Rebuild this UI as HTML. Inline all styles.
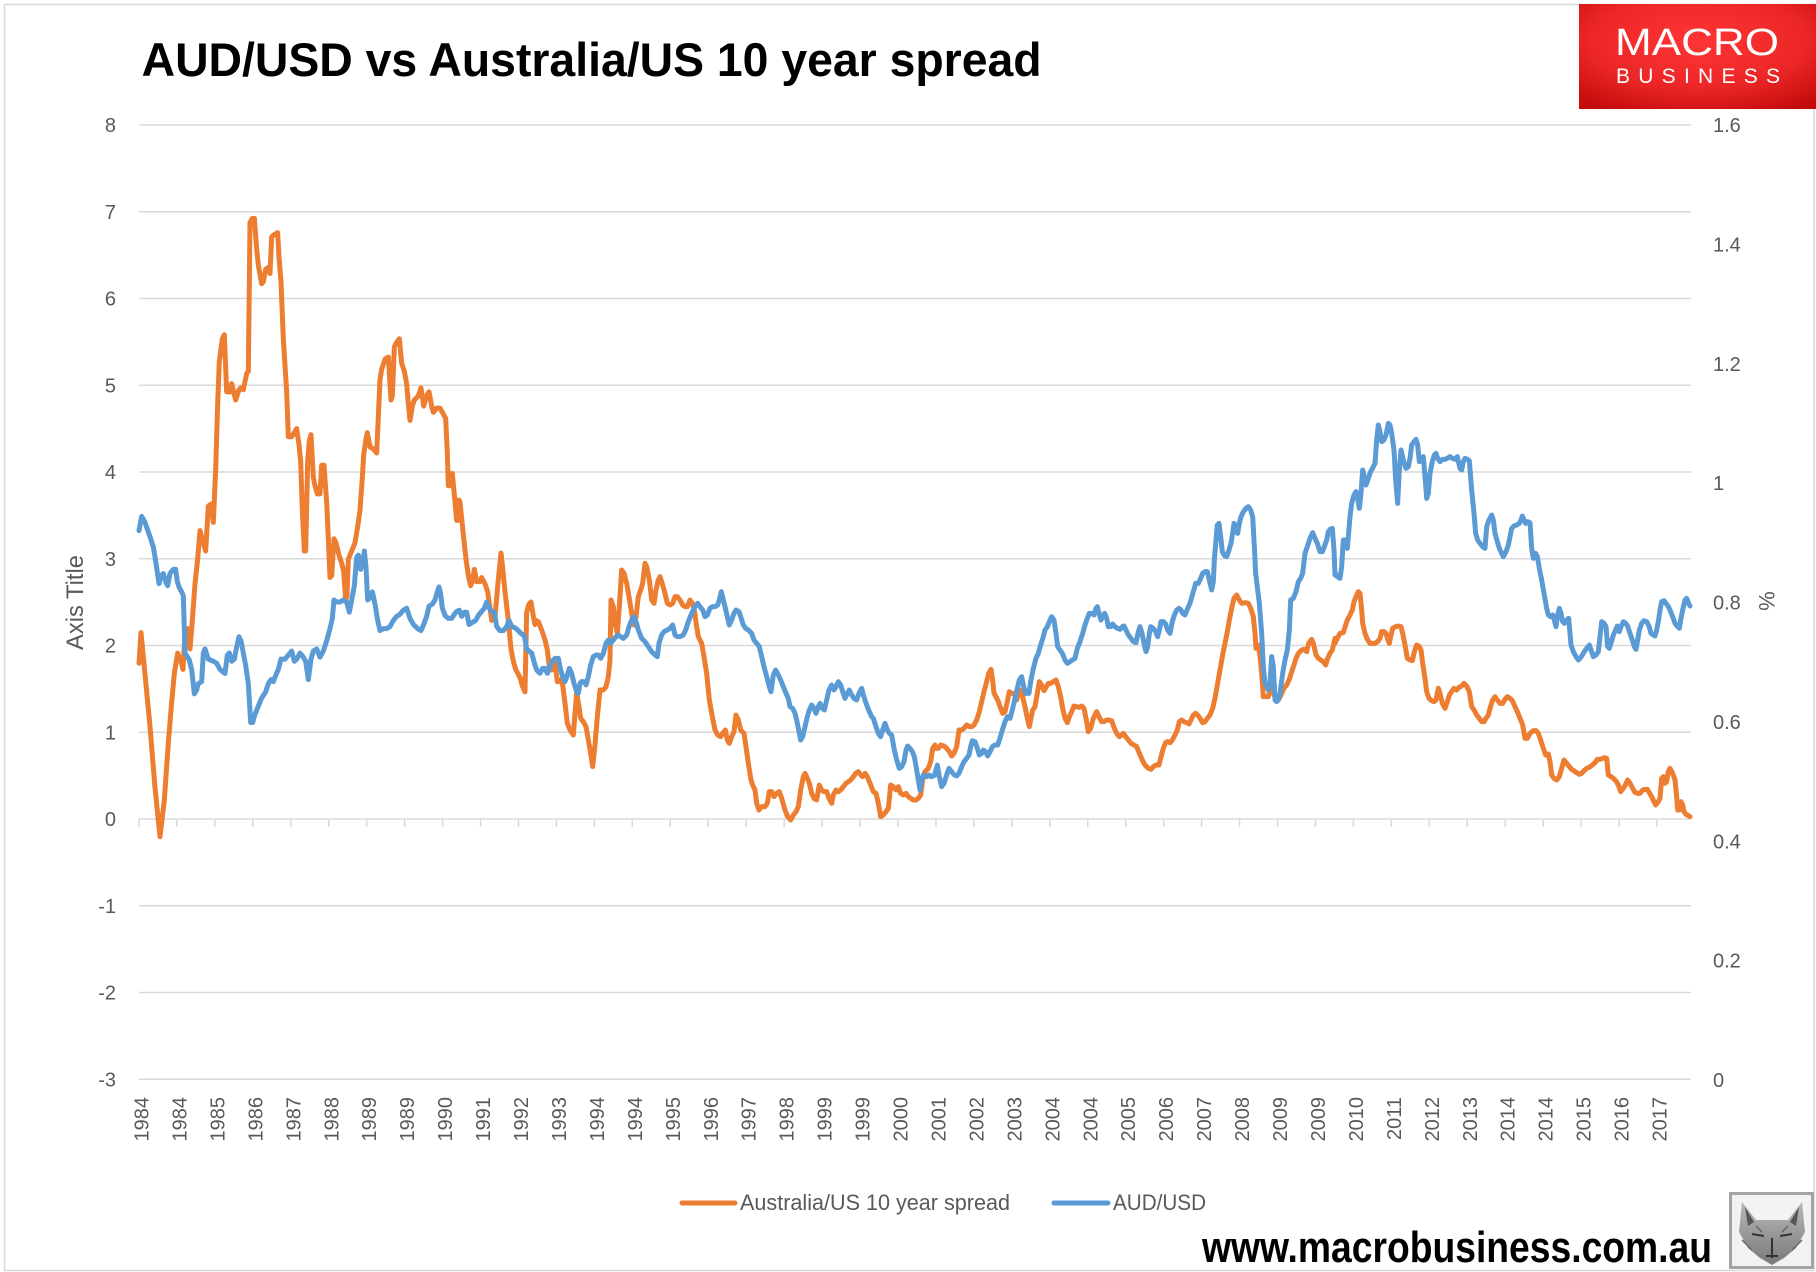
<!DOCTYPE html>
<html>
<head>
<meta charset="utf-8">
<style>
html,body{margin:0;padding:0;background:#fff;}
svg{display:block;}
.tk{font-family:"Liberation Sans",sans-serif;font-size:20px;fill:#595959;}
.o{fill:none;stroke:#ED7D31;stroke-width:5;stroke-linejoin:round;stroke-linecap:round;}
.b{fill:none;stroke:#5B9BD5;stroke-width:5;stroke-linejoin:round;stroke-linecap:round;}
</style>
</head>
<body>
<svg width="1816" height="1272" viewBox="0 0 1816 1272" xmlns="http://www.w3.org/2000/svg">
<defs>
<radialGradient id="rg" cx="50%" cy="35%" r="75%">
<stop offset="0" stop-color="#ff3535"/>
<stop offset="0.6" stop-color="#ec2626"/>
<stop offset="1" stop-color="#c50c0c"/>
</radialGradient>
<linearGradient id="fx" x1="0" y1="0" x2="0" y2="1">
<stop offset="0" stop-color="#b8b8b8"/>
<stop offset="1" stop-color="#7a7a7a"/>
</linearGradient>
</defs>
<rect x="0" y="0" width="1816" height="1272" fill="#fff"/>
<rect x="4.5" y="4.5" width="1809.5" height="1266" fill="none" stroke="#d9d9d9" stroke-width="1.5"/>

<text x="141.6" y="76" font-family="'Liberation Sans',sans-serif" font-weight="bold" font-size="47" fill="#000" textLength="900" lengthAdjust="spacingAndGlyphs">AUD/USD vs Australia/US 10 year spread</text>

<rect x="1579" y="4" width="237" height="105" fill="url(#rg)"/>
<text x="1615" y="55" font-family="'Liberation Sans',sans-serif" font-size="38" fill="#fff" textLength="164" lengthAdjust="spacingAndGlyphs">MACRO</text>
<text x="1616" y="83" font-family="'Liberation Sans',sans-serif" font-size="21" fill="#fff" textLength="164" lengthAdjust="spacing">BUSINESS</text>

<g stroke="#d9d9d9" stroke-width="1.5">
<line x1="139" y1="125.0" x2="1691" y2="125.0"/>
<line x1="139" y1="211.75" x2="1691" y2="211.75"/>
<line x1="139" y1="298.5" x2="1691" y2="298.5"/>
<line x1="139" y1="385.25" x2="1691" y2="385.25"/>
<line x1="139" y1="472" x2="1691" y2="472"/>
<line x1="139" y1="558.75" x2="1691" y2="558.75"/>
<line x1="139" y1="645.5" x2="1691" y2="645.5"/>
<line x1="139" y1="732.25" x2="1691" y2="732.25"/>
<line x1="139" y1="819" x2="1691" y2="819"/>
<line x1="139" y1="905.75" x2="1691" y2="905.75"/>
<line x1="139" y1="992.5" x2="1691" y2="992.5"/>
<line x1="139" y1="1079.25" x2="1691" y2="1079.25"/>
</g>
<g stroke="#d9d9d9" stroke-width="1.5">
<line x1="139.0" y1="819" x2="139.0" y2="827"/><line x1="176.95" y1="819" x2="176.95" y2="827"/><line x1="214.9" y1="819" x2="214.9" y2="827"/><line x1="252.85" y1="819" x2="252.85" y2="827"/><line x1="290.8" y1="819" x2="290.8" y2="827"/><line x1="328.75" y1="819" x2="328.75" y2="827"/><line x1="366.7" y1="819" x2="366.7" y2="827"/><line x1="404.65" y1="819" x2="404.65" y2="827"/><line x1="442.6" y1="819" x2="442.6" y2="827"/><line x1="480.55" y1="819" x2="480.55" y2="827"/><line x1="518.5" y1="819" x2="518.5" y2="827"/><line x1="556.45" y1="819" x2="556.45" y2="827"/><line x1="594.4" y1="819" x2="594.4" y2="827"/><line x1="632.35" y1="819" x2="632.35" y2="827"/><line x1="670.3" y1="819" x2="670.3" y2="827"/><line x1="708.25" y1="819" x2="708.25" y2="827"/><line x1="746.2" y1="819" x2="746.2" y2="827"/><line x1="784.15" y1="819" x2="784.15" y2="827"/><line x1="822.1" y1="819" x2="822.1" y2="827"/><line x1="860.05" y1="819" x2="860.05" y2="827"/><line x1="898.0" y1="819" x2="898.0" y2="827"/><line x1="935.95" y1="819" x2="935.95" y2="827"/><line x1="973.9" y1="819" x2="973.9" y2="827"/><line x1="1011.85" y1="819" x2="1011.85" y2="827"/><line x1="1049.8" y1="819" x2="1049.8" y2="827"/><line x1="1087.75" y1="819" x2="1087.75" y2="827"/><line x1="1125.7" y1="819" x2="1125.7" y2="827"/><line x1="1163.65" y1="819" x2="1163.65" y2="827"/><line x1="1201.6" y1="819" x2="1201.6" y2="827"/><line x1="1239.55" y1="819" x2="1239.55" y2="827"/><line x1="1277.5" y1="819" x2="1277.5" y2="827"/><line x1="1315.45" y1="819" x2="1315.45" y2="827"/><line x1="1353.4" y1="819" x2="1353.4" y2="827"/><line x1="1391.35" y1="819" x2="1391.35" y2="827"/><line x1="1429.3" y1="819" x2="1429.3" y2="827"/><line x1="1467.25" y1="819" x2="1467.25" y2="827"/><line x1="1505.2" y1="819" x2="1505.2" y2="827"/><line x1="1543.15" y1="819" x2="1543.15" y2="827"/><line x1="1581.1" y1="819" x2="1581.1" y2="827"/><line x1="1619.05" y1="819" x2="1619.05" y2="827"/><line x1="1657.0" y1="819" x2="1657.0" y2="827"/>
</g>

<g class="tk" text-anchor="end">
<text x="116" y="132">8</text>
<text x="116" y="218.75">7</text>
<text x="116" y="305.5">6</text>
<text x="116" y="392.25">5</text>
<text x="116" y="479">4</text>
<text x="116" y="565.75">3</text>
<text x="116" y="652.5">2</text>
<text x="116" y="739.25">1</text>
<text x="116" y="826">0</text>
<text x="116" y="912.75">-1</text>
<text x="116" y="999.5">-2</text>
<text x="116" y="1086.25">-3</text>
</g>
<g class="tk">
<text x="1713" y="132">1.6</text>
<text x="1713" y="251.4">1.4</text>
<text x="1713" y="370.8">1.2</text>
<text x="1713" y="490.1">1</text>
<text x="1713" y="609.5">0.8</text>
<text x="1713" y="728.9">0.6</text>
<text x="1713" y="848.3">0.4</text>
<text x="1713" y="967.6">0.2</text>
<text x="1713" y="1087">0</text>
</g>
<text transform="translate(83,602.5) rotate(-90)" text-anchor="middle" font-family="'Liberation Sans',sans-serif" font-size="24" fill="#595959" textLength="95" lengthAdjust="spacingAndGlyphs">Axis Title</text>
<text transform="translate(1759,601) rotate(90)" text-anchor="middle" font-family="'Liberation Sans',sans-serif" font-size="22" fill="#595959">%</text>

<g class="tk" text-anchor="end">
<text transform="translate(148.5,1097) rotate(-90)">1984</text>
<text transform="translate(186.45,1097) rotate(-90)">1984</text>
<text transform="translate(224.4,1097) rotate(-90)">1985</text>
<text transform="translate(262.35,1097) rotate(-90)">1986</text>
<text transform="translate(300.3,1097) rotate(-90)">1987</text>
<text transform="translate(338.25,1097) rotate(-90)">1988</text>
<text transform="translate(376.2,1097) rotate(-90)">1989</text>
<text transform="translate(414.15,1097) rotate(-90)">1989</text>
<text transform="translate(452.1,1097) rotate(-90)">1990</text>
<text transform="translate(490.05,1097) rotate(-90)">1991</text>
<text transform="translate(528.0,1097) rotate(-90)">1992</text>
<text transform="translate(565.95,1097) rotate(-90)">1993</text>
<text transform="translate(603.9,1097) rotate(-90)">1994</text>
<text transform="translate(641.85,1097) rotate(-90)">1994</text>
<text transform="translate(679.8,1097) rotate(-90)">1995</text>
<text transform="translate(717.75,1097) rotate(-90)">1996</text>
<text transform="translate(755.7,1097) rotate(-90)">1997</text>
<text transform="translate(793.65,1097) rotate(-90)">1998</text>
<text transform="translate(831.6,1097) rotate(-90)">1999</text>
<text transform="translate(869.55,1097) rotate(-90)">1999</text>
<text transform="translate(907.5,1097) rotate(-90)">2000</text>
<text transform="translate(945.45,1097) rotate(-90)">2001</text>
<text transform="translate(983.4,1097) rotate(-90)">2002</text>
<text transform="translate(1021.35,1097) rotate(-90)">2003</text>
<text transform="translate(1059.3,1097) rotate(-90)">2004</text>
<text transform="translate(1097.25,1097) rotate(-90)">2004</text>
<text transform="translate(1135.2,1097) rotate(-90)">2005</text>
<text transform="translate(1173.15,1097) rotate(-90)">2006</text>
<text transform="translate(1211.1,1097) rotate(-90)">2007</text>
<text transform="translate(1249.05,1097) rotate(-90)">2008</text>
<text transform="translate(1287.0,1097) rotate(-90)">2009</text>
<text transform="translate(1324.95,1097) rotate(-90)">2009</text>
<text transform="translate(1362.9,1097) rotate(-90)">2010</text>
<text transform="translate(1400.85,1097) rotate(-90)">2011</text>
<text transform="translate(1438.8,1097) rotate(-90)">2012</text>
<text transform="translate(1476.75,1097) rotate(-90)">2013</text>
<text transform="translate(1514.7,1097) rotate(-90)">2014</text>
<text transform="translate(1552.65,1097) rotate(-90)">2014</text>
<text transform="translate(1590.6,1097) rotate(-90)">2015</text>
<text transform="translate(1628.55,1097) rotate(-90)">2016</text>
<text transform="translate(1666.5,1097) rotate(-90)">2017</text>
</g>

<g transform="translate(135,200) scale(0.333333,0.408163)">
<polyline class="o" vector-effect="non-scaling-stroke" points="12,1135 18,1060 45,1290 60,1440 75,1560 88,1470 100,1330 110,1230 118,1160 128,1110 138,1130 144,1150 150,1060 158,1050 165,1100 172,1030 180,940 188,880 195,810 205,840 212,860 220,750 228,745 235,790 242,660 248,500 253,395 262,340 268,330 275,470 285,470 290,450 302,490 312,465 318,460 325,465 335,425 340,420 345,55 352,45 358,45 365,120 370,160 380,205 385,200 392,170 400,165 405,180 410,90 418,85 428,80 432,140 438,200 445,340 455,470 460,580 470,580 478,570 485,560 492,600 497,640 502,760 508,860 512,860 518,640 523,590 528,575 535,680 540,700 547,720 555,720 560,650 567,650 575,740 580,830 585,925 590,920 597,830 603,840 612,870 620,890 626,910 632,980 636,970 640,880 650,860 660,840 668,800 675,760 682,680 686,625 692,590 697,570 705,605 715,610 725,620 730,530 735,440 740,415 750,390 760,385 768,490 772,480 778,360 784,350 793,340 800,400 808,420 815,450 820,500 825,540 832,505 838,490 850,480 858,460 866,505 875,480 882,470 890,505 895,520 905,510 915,510 922,520 932,535 937,620 940,700 945,700 952,670 960,740 965,785 968,785 972,735 975,740 985,820 993,880 1000,920 1007,945 1012,935 1018,905 1025,935 1035,935 1040,925 1050,940 1058,960 1065,1000 1070,1030 1080,1020 1090,930 1098,865 1104,910 1110,960 1120,1030 1128,1100 1135,1130 1142,1150 1155,1170 1162,1190 1170,1205 1175,1010 1182,990 1188,985 1195,1020 1200,1040"/>
</g>
<g transform="translate(530,420) scale(0.333333)">
<polyline class="o" vector-effect="non-scaling-stroke" points="15,600 25,605 35,630 45,660 52,690 58,740 65,750 75,730 82,785 90,780 98,795 105,850 112,910 120,930 130,945 135,880 140,820 147,860 152,895 160,905 168,920 175,960 182,1000 188,1040 195,975 202,890 210,810 220,810 228,800 235,770 240,720 243,540 250,560 255,610 262,640 268,560 275,450 282,460 290,490 297,530 305,580 312,615 318,590 325,530 332,510 338,490 345,430 350,440 358,480 365,540 372,550 378,510 385,480 390,470 398,495 405,520 412,550 420,555 428,550 435,530 442,530 450,540 458,555 465,560 472,560 480,540 487,550 493,570 500,620 505,650 515,670 522,710 530,760 538,840 547,890 555,930 563,945 572,950 578,940 586,930 592,960 598,970 605,950 612,935 618,885 625,900 632,930 642,940 648,980 655,1030 663,1080 668,1095 675,1110 680,1150 687,1170 695,1160 705,1160 712,1150 718,1115 725,1115 732,1130 740,1120 748,1115 755,1135 765,1170 773,1190 782,1200 790,1185 798,1175 805,1160 812,1110 820,1070 825,1060 832,1075 838,1090 845,1120 852,1135 860,1140 868,1095 875,1110 882,1115 890,1115 897,1135 905,1150 910,1125 918,1110 925,1115 932,1110 940,1100 948,1090 955,1085 962,1080 970,1070 977,1060 985,1055 992,1065 998,1070 1005,1060 1012,1070 1020,1090 1030,1115 1038,1120 1045,1150 1052,1190 1060,1185 1068,1175 1075,1165 1082,1095 1090,1100 1098,1110 1105,1100 1112,1120 1120,1125 1128,1120 1135,1130 1142,1135 1150,1140 1158,1140 1165,1135 1172,1125 1178,1080 1185,1055 1195,1045 1202,1025 1208,985 1215,975"/>
</g>
<g transform="translate(930,400) scale(0.333333)">
<polyline class="o" vector-effect="non-scaling-stroke" points="15,1045 25,1045 32,1035 42,1038 50,1045 58,1055 65,1068 72,1060 80,1040 87,990 95,990 102,985 110,975 118,980 125,980 132,975 140,960 148,935 155,905 162,875 170,845 176,820 183,808 188,840 192,880 198,890 205,905 212,925 218,940 225,935 232,905 238,875 245,880 252,880 260,900 265,880 272,870 278,890 285,920 292,955 298,980 303,955 308,930 315,920 322,880 328,845 335,855 342,872 348,862 355,850 362,850 370,845 378,840 385,860 392,890 398,925 405,955 412,968 418,950 425,935 432,918 440,920 447,922 455,918 462,925 468,955 475,995 482,985 490,955 500,935 507,950 515,965 522,965 530,960 537,960 545,962 553,985 560,1000 568,1010 575,1005 580,1000 587,1010 595,1020 603,1030 612,1035 620,1040 628,1060 637,1080 645,1095 655,1105 663,1108 670,1100 678,1095 687,1095 693,1070 700,1045 707,1028 713,1025 720,1028 727,1020 735,1005 742,990 748,965 755,960 762,965 770,968 777,972 783,960 790,945 797,940 803,945 810,955 818,968 825,965 832,955 840,945 848,925 855,895 862,855 870,810 878,765 885,730 892,695 898,660 905,625 912,595 920,585 928,600 935,610 945,608 955,610 962,625 970,650 975,700 978,745 985,735 990,770 995,820 1000,890 1008,890 1015,890 1020,870 1025,860 1030,880 1035,890 1042,895 1048,895 1055,880 1062,865 1070,855 1078,838 1085,815 1092,795 1098,775 1105,760 1115,750 1122,748 1130,755 1136,730 1145,718 1150,730 1158,765 1165,775 1172,780 1180,785 1187,795 1193,775 1200,760 1207,750 1215,715"/>
</g>
<g transform="translate(1330,380) scale(0.333333)">
<polyline class="o" vector-effect="non-scaling-stroke" points="15,790 22,775 30,760 40,758 47,735 52,720 60,705 67,690 72,665 78,650 85,635 90,640 95,690 98,730 105,760 112,778 120,790 128,790 135,790 143,785 150,775 155,755 162,755 168,760 172,775 178,790 182,770 188,745 197,740 205,738 213,740 218,760 225,795 232,835 240,840 247,842 253,815 260,795 268,800 273,810 278,850 285,895 290,935 297,955 305,962 312,965 318,960 325,925 330,940 337,970 345,985 352,965 358,945 365,935 372,925 380,930 387,922 395,918 402,910 410,918 418,935 425,980 432,990 440,1005 448,1015 455,1025 462,1025 468,1015 475,1005 480,985 487,962 495,950 502,960 510,970 518,970 525,958 532,950 540,955 547,962 555,980 562,995 570,1015 578,1035 585,1075 592,1075 600,1060 610,1052 618,1052 625,1060 632,1080 640,1105 647,1125 655,1122 660,1145 665,1185 672,1195 680,1200 688,1190 695,1165 702,1140 710,1150 718,1160 725,1168 733,1173 740,1178 748,1183 755,1180 762,1172 770,1165 778,1162 787,1155 795,1148 802,1138 810,1138 818,1135 825,1133 830,1135 835,1185 843,1190 850,1195 858,1203 865,1215 872,1235 880,1225 887,1213 893,1200 900,1210 908,1225 915,1237 922,1240 930,1240 938,1230 945,1228 952,1228 958,1238 965,1250 972,1265 977,1275 985,1265 990,1255 995,1195 1000,1190 1005,1210 1010,1205 1015,1175 1020,1165 1028,1180 1035,1200 1040,1250 1043,1290 1048,1290 1053,1265 1058,1275 1062,1295 1068,1303 1075,1307 1080,1310"/>
</g>

<g transform="translate(135,200) scale(0.333333,0.408163)">
<polyline class="b" vector-effect="non-scaling-stroke" points="12,810 20,775 30,790 45,825 55,850 63,890 72,940 78,920 85,915 92,935 98,945 105,915 115,905 122,905 127,935 133,950 140,960 145,970 150,1110 162,1125 170,1150 178,1210 185,1200 190,1185 200,1180 205,1110 210,1100 220,1125 235,1130 245,1135 255,1150 262,1155 270,1160 277,1115 283,1110 290,1130 298,1125 305,1095 312,1070 318,1080 325,1110 332,1140 340,1185 347,1280 353,1280 360,1260 370,1240 380,1220 392,1205 400,1185 408,1175 415,1180 422,1165 430,1150 438,1125 450,1125 460,1115 470,1105 478,1130 485,1125 495,1110 505,1120 512,1130 520,1175 528,1125 535,1105 545,1100 555,1120 565,1105 575,1080 585,1050 592,1025 597,980 605,985 615,985 625,980 635,985 643,1010 650,980 658,945 665,875 670,870 677,905 684,885 688,860 693,900 698,980 705,975 712,960 720,990 728,1030 735,1055 745,1050 755,1050 765,1045 775,1030 785,1020 795,1015 805,1005 815,1000 825,1025 835,1040 848,1050 858,1055 866,1040 875,1020 882,995 892,990 900,980 907,960 912,948 917,965 922,1000 930,1018 940,1025 950,1025 958,1015 965,1008 973,1005 980,1020 988,1010 995,1010 1002,1040 1012,1035 1022,1030 1030,1018 1040,1008 1048,1000 1055,985 1063,1000 1070,1008 1078,1010 1085,1045 1095,1055 1105,1055 1115,1045 1122,1030 1130,1045 1140,1048 1150,1055 1158,1062 1168,1068 1175,1100 1182,1105 1190,1110 1200,1140"/>
</g>
<g transform="translate(530,420) scale(0.333333)">
<polyline class="b" vector-effect="non-scaling-stroke" points="15,735 20,750 30,760 38,745 45,745 52,760 58,745 65,725 75,715 85,715 92,750 98,770 105,785 112,765 118,745 125,760 132,790 140,815 145,820 150,790 155,785 162,785 168,795 175,770 182,735 190,710 198,705 205,705 212,715 220,700 228,670 235,660 242,670 250,660 258,650 265,645 272,650 280,655 290,645 297,620 305,600 312,590 318,605 325,630 335,655 345,665 355,680 365,695 375,705 382,710 387,670 395,645 402,635 412,630 420,625 428,615 435,645 442,650 450,650 460,645 467,630 475,605 485,580 495,560 503,550 510,560 518,570 525,590 532,585 540,565 547,560 555,560 563,555 568,540 574,515 580,540 585,560 592,590 598,615 605,600 612,580 618,570 627,575 632,590 640,615 647,625 655,630 665,640 672,660 680,670 688,680 695,710 702,740 710,770 718,800 723,815 730,765 737,750 745,765 752,780 760,800 768,820 775,835 780,860 788,865 795,880 800,900 806,930 812,960 818,950 825,920 832,890 838,870 845,855 852,865 858,880 865,860 870,850 877,865 883,870 890,840 897,810 905,795 912,810 918,800 925,785 932,795 938,815 945,835 952,820 958,810 965,825 972,835 980,840 987,820 995,805 1000,825 1010,855 1018,875 1025,890 1030,895 1038,920 1045,940 1052,950 1058,930 1065,910 1072,930 1078,940 1085,945 1092,985 1100,1020 1108,1045 1115,1040 1122,1025 1128,990 1133,978 1140,985 1147,995 1153,1010 1160,1050 1165,1080 1170,1110 1175,1080 1180,1065 1190,1070 1198,1065 1205,1070 1215,1065"/>
</g>
<g transform="translate(930,400) scale(0.333333)">
<polyline class="b" vector-effect="non-scaling-stroke" points="15,1120 22,1095 28,1130 35,1160 42,1150 50,1125 57,1105 65,1115 73,1125 80,1128 87,1120 95,1100 102,1085 110,1075 117,1065 122,1040 127,1022 135,1025 142,1045 148,1065 155,1060 160,1050 167,1055 173,1068 180,1055 187,1040 195,1035 203,1035 210,1015 217,990 225,965 232,950 240,955 247,930 255,895 262,865 268,840 275,830 280,855 287,880 297,880 302,845 310,805 318,775 325,760 332,735 340,710 345,690 352,680 358,665 365,650 372,660 378,700 383,740 390,750 397,760 405,780 412,790 420,785 427,780 435,775 442,745 450,725 458,700 465,675 472,655 478,640 485,640 492,645 498,625 502,620 507,640 513,660 518,650 524,640 530,655 535,680 542,680 548,672 555,680 562,685 570,688 577,680 582,678 588,690 595,705 603,715 610,725 618,728 625,695 630,680 636,700 642,730 648,755 653,740 658,700 662,680 670,685 677,695 683,710 688,690 693,665 700,665 707,672 713,690 720,700 727,665 733,645 740,630 747,625 753,630 758,640 765,645 773,625 780,610 787,585 793,565 797,550 805,550 812,535 818,520 825,515 832,515 838,540 845,570 850,545 853,480 858,420 862,375 867,370 872,410 877,455 884,468 890,470 897,450 903,430 908,400 912,370 918,380 923,400 928,370 933,350 940,335 948,325 955,320 962,330 968,350 973,440 977,520 983,570 988,610 995,700 1000,800 1005,850 1010,860 1015,870 1020,850 1025,770 1030,800 1035,900 1040,905 1045,900 1050,880 1058,820 1065,780 1072,750 1078,690 1082,600 1090,595 1098,575 1105,545 1112,535 1118,520 1125,460 1132,440 1140,415 1148,398 1155,415 1162,430 1170,455 1177,455 1183,440 1190,420 1195,395 1200,388 1207,385 1212,450 1215,525"/>
</g>
<g transform="translate(1330,380) scale(0.333333)">
<polyline class="b" vector-effect="non-scaling-stroke" points="15,580 22,590 30,595 35,560 40,480 47,480 52,505 55,470 60,410 65,370 72,345 78,335 82,350 88,385 93,340 98,270 103,290 108,315 115,295 122,275 130,260 135,250 140,180 145,135 150,155 155,185 162,180 168,165 175,130 180,135 185,160 192,210 197,300 203,370 208,270 213,210 220,240 228,265 235,260 240,235 245,195 252,185 258,178 263,195 268,245 275,240 280,230 285,290 290,355 295,340 300,280 307,245 313,225 318,220 323,235 330,245 337,238 345,238 352,235 360,230 367,235 375,238 382,230 390,265 395,270 400,245 405,235 412,238 418,242 425,330 432,400 437,460 443,480 450,490 458,500 465,505 470,440 477,420 485,405 490,420 495,460 502,485 508,505 515,520 520,530 528,515 535,495 540,470 545,445 552,438 560,435 568,430 573,420 577,408 582,420 587,430 593,425 600,428 605,505 610,535 617,520 622,530 628,565 635,600 642,640 650,685 655,705 662,710 668,705 673,720 678,740 683,705 688,685 693,700 698,725 703,730 710,720 716,715 720,760 723,795 730,815 738,830 745,840 750,835 757,825 763,815 770,805 778,795 783,810 790,830 798,825 805,815 810,770 815,725 822,730 828,740 833,800 838,805 843,790 850,765 857,750 862,738 868,755 873,740 880,725 887,730 893,738 900,760 907,780 913,800 918,808 923,780 928,750 935,730 942,722 950,725 957,738 963,760 970,765 975,768 980,750 985,725 990,690 995,665 1002,662 1008,670 1015,680 1020,690 1028,710 1035,730 1043,740 1048,745 1052,720 1058,690 1065,660 1070,655 1075,668 1080,678"/>
</g>

<line x1="682" y1="1203" x2="735" y2="1203" stroke="#ED7D31" stroke-width="5" stroke-linecap="round"/>
<text x="740" y="1210" font-family="'Liberation Sans',sans-serif" font-size="22" fill="#595959" textLength="270" lengthAdjust="spacingAndGlyphs">Australia/US 10 year spread</text>
<line x1="1054" y1="1203" x2="1108" y2="1203" stroke="#5B9BD5" stroke-width="5" stroke-linecap="round"/>
<text x="1113" y="1210" font-family="'Liberation Sans',sans-serif" font-size="22" fill="#595959" textLength="93" lengthAdjust="spacingAndGlyphs">AUD/USD</text>

<text x="1202" y="1262" font-family="'Liberation Sans',sans-serif" font-weight="bold" font-size="44" fill="#000" textLength="510" lengthAdjust="spacingAndGlyphs">www.macrobusiness.com.au</text>

<rect x="1730.5" y="1193.5" width="82" height="74" fill="#f2f2f2" stroke="#a3a3a3" stroke-width="3"/>
<polygon points="1742,1202 1756,1220 1788,1220 1802,1202 1805,1232 1796,1248 1784,1258 1772,1265 1760,1258 1748,1248 1739,1232" fill="url(#fx)"/>
<polygon points="1745,1207 1754,1222 1748,1226" fill="#555"/>
<polygon points="1799,1207 1790,1222 1796,1226" fill="#555"/>
<path d="M1752,1234 L1764,1236 M1780,1236 L1792,1234 M1772,1238 L1772,1258 M1766,1256 L1778,1256" stroke="#333" stroke-width="2" fill="none"/>
<path d="M1742,1240 L1752,1250 M1802,1240 L1792,1250 M1756,1226 L1762,1232 M1788,1226 L1782,1232" stroke="#666" stroke-width="1.5" fill="none"/>
</svg>
</body>
</html>
